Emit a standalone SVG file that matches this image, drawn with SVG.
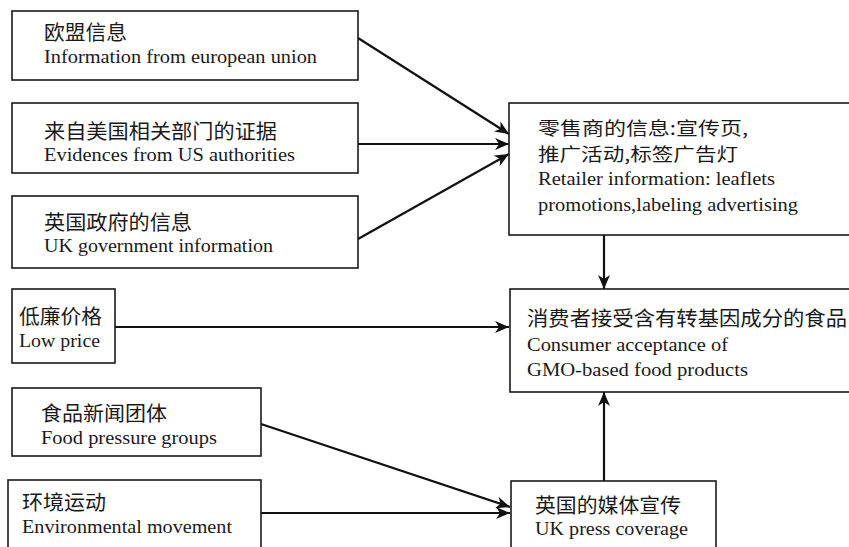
<svg xmlns="http://www.w3.org/2000/svg" width="849" height="547" viewBox="0 0 849 547">
<defs>
<style>
.box{fill:#fff;stroke:#1a1a1a;stroke-width:1.6}
.zh{font-family:"Noto Sans CJK SC","Noto Sans CJK JP",sans-serif;font-size:20px;fill:#1a1a1a}
.zs{font-size:18px}
.en{font-family:"Liberation Serif","DejaVu Serif",serif;font-size:18px;fill:#1a1a1a}
.ln{stroke:#111;stroke-width:2.2;fill:none;marker-end:url(#ah)}
</style>
<marker id="ah" markerUnits="userSpaceOnUse" markerWidth="14" markerHeight="12" viewBox="0 0 14 12" refX="14" refY="6" orient="auto">
<path d="M0,0 L14,6 L0,12 L4,6 Z" fill="#111"/>
</marker>
</defs>
<rect width="849" height="547" fill="#fff"/>
<g id="connectors">
<line class="ln" x1="358" y1="38" x2="509" y2="134"/>
<line class="ln" x1="358" y1="144" x2="509" y2="144"/>
<line class="ln" x1="358" y1="239" x2="509" y2="154"/>
<line class="ln" x1="604" y1="235" x2="604" y2="289"/>
<line class="ln" x1="115" y1="327" x2="509" y2="327"/>
<line class="ln" x1="261" y1="424" x2="510" y2="507"/>
<line class="ln" x1="261" y1="513" x2="510" y2="513"/>
<line class="ln" x1="604" y1="481" x2="604" y2="392"/>
</g>
<g id="eu">
<rect class="box" x="12" y="11" width="346" height="69"/>
<text class="zh" x="44" y="40" textLength="83" lengthAdjust="spacingAndGlyphs">欧盟信息</text>
<text class="en" x="44" y="63" textLength="273" lengthAdjust="spacingAndGlyphs">Information from european union</text>
</g>
<g id="us">
<rect class="box" x="12" y="103" width="346" height="70"/>
<text class="zh" x="44" y="139" textLength="233" lengthAdjust="spacingAndGlyphs">来自美国相关部门的证据</text>
<text class="en" x="44" y="161" textLength="251" lengthAdjust="spacingAndGlyphs">Evidences from US authorities</text>
</g>
<g id="ukgov">
<rect class="box" x="12" y="196" width="346" height="72"/>
<text class="zh" x="44" y="230" textLength="148" lengthAdjust="spacingAndGlyphs">英国政府的信息</text>
<text class="en" x="44" y="252" textLength="229" lengthAdjust="spacingAndGlyphs">UK government information</text>
</g>
<g id="retailer">
<rect class="box" x="509" y="103" width="345" height="132"/>
<text class="zh zs" x="538" y="135" textLength="210" lengthAdjust="spacingAndGlyphs">零售商的信息:宣传页,</text>
<text class="zh zs" x="538" y="161" textLength="200" lengthAdjust="spacingAndGlyphs">推广活动,标签广告灯</text>
<text class="en" x="538" y="185" textLength="237" lengthAdjust="spacingAndGlyphs">Retailer information: leaflets</text>
<text class="en" x="538" y="211" textLength="260" lengthAdjust="spacingAndGlyphs">promotions,labeling advertising</text>
</g>
<g id="lowprice">
<rect class="box" x="12" y="289" width="103" height="74"/>
<text class="zh" x="19" y="324" textLength="83" lengthAdjust="spacingAndGlyphs">低廉价格</text>
<text class="en" x="19" y="347" textLength="81" lengthAdjust="spacingAndGlyphs">Low price</text>
</g>
<g id="consumer">
<rect class="box" x="510" y="289" width="344" height="103"/>
<text class="zh" x="527" y="326" textLength="320" lengthAdjust="spacingAndGlyphs">消费者接受含有转基因成分的食品</text>
<text class="en" x="527" y="351" textLength="201" lengthAdjust="spacingAndGlyphs">Consumer acceptance of</text>
<text class="en" x="527" y="376" textLength="221" lengthAdjust="spacingAndGlyphs">GMO-based food products</text>
</g>
<g id="food">
<rect class="box" x="12" y="388" width="249" height="68"/>
<text class="zh" x="41" y="421" textLength="126" lengthAdjust="spacingAndGlyphs">食品新闻团体</text>
<text class="en" x="41" y="444" textLength="176" lengthAdjust="spacingAndGlyphs">Food pressure groups</text>
</g>
<g id="env">
<rect class="box" x="8" y="480" width="253" height="80"/>
<text class="zh" x="22" y="510" textLength="84" lengthAdjust="spacingAndGlyphs">环境运动</text>
<text class="en" x="22" y="533" textLength="210" lengthAdjust="spacingAndGlyphs">Environmental movement</text>
</g>
<g id="ukpress">
<rect class="box" x="511" y="481" width="205" height="80"/>
<text class="zh" x="535" y="513" textLength="146" lengthAdjust="spacingAndGlyphs">英国的媒体宣传</text>
<text class="en" x="535" y="535" textLength="153" lengthAdjust="spacingAndGlyphs">UK press coverage</text>
</g>
</svg>
